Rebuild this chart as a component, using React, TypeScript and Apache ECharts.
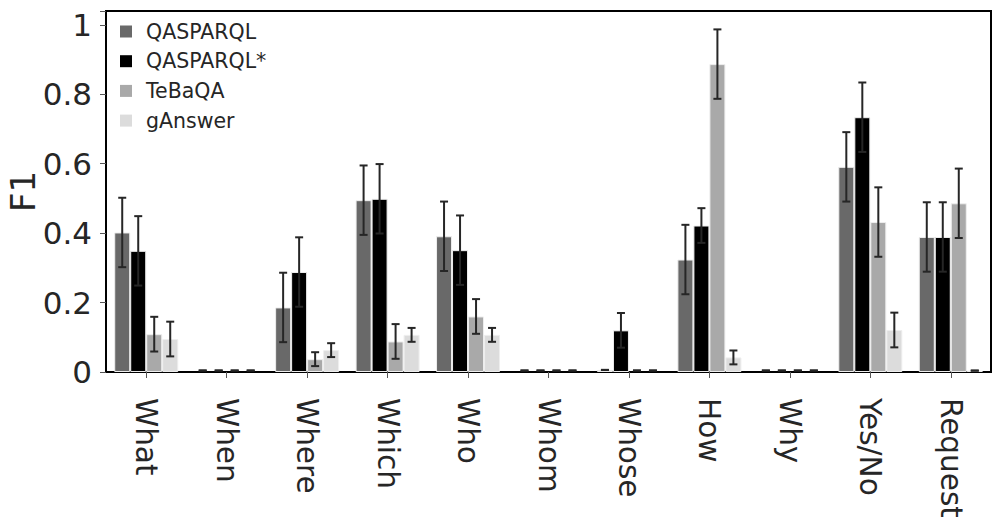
import React, { useEffect, useRef } from "react";
import * as echarts from "echarts";

const categories = ["What", "When", "Where", "Which", "Who", "Whom", "Whose", "How", "Why", "Yes/No", "Request"];
const seriesNames = ["QASPARQL", "QASPARQL*", "TeBaQA", "gAnswer"];
const qasparql = [0.402, 0, 0.186, 0.495, 0.391, 0, 0.006, 0.324, 0, 0.591, 0.389];
const qasparqlErr = [0.1, 0, 0.1, 0.1, 0.1, 0, 0, 0.1, 0, 0.1, 0.1];
const qasparqlStar = [0.349, 0, 0.288, 0.499, 0.351, 0, 0.12, 0.422, 0, 0.734, 0.389];
const qasparqlStarErr = [0.1, 0, 0.1, 0.1, 0.1, 0, 0.05, 0.05, 0, 0.1, 0.1];
const tebaqa = [0.109, 0, 0.037, 0.088, 0.16, 0, 0, 0.887, 0, 0.432, 0.486];
const tebaqaErr = [0.05, 0, 0.02, 0.05, 0.05, 0, 0, 0.1, 0, 0.1, 0.1];
const ganswer = [0.095, 0, 0.063, 0.107, 0.107, 0, 0, 0.042, 0, 0.121, 0.004];
const ganswerErr = [0.05, 0, 0.02, 0.02, 0.02, 0, 0, 0.02, 0, 0.05, 0];
const yTicks = [0, 0.2, 0.4, 0.6, 0.8, 1];

const colors = ["#696969", "#000000", "#a9a9a9", "#dcdcdc"];
const values = [qasparql, qasparqlStar, tebaqa, ganswer];
const errors = [qasparqlErr, qasparqlStarErr, tebaqaErr, ganswerErr];

const FONT = "DejaVu Sans";
const BAR_W = 16;

export default function App() {
  const ref = useRef<HTMLDivElement>(null);
  useEffect(() => {
    const chart = echarts.init(ref.current!, undefined, { renderer: "svg" });
    const barSeries = seriesNames.map((name, i) => ({
      name,
      type: "bar",
      barWidth: BAR_W,
      barGap: "0%",
      data: values[i].map((v) => (v === 0 ? { value: 0, itemStyle: { borderWidth: 0 } } : v)),
      itemStyle: { color: colors[i], borderColor: "#eeeeee", borderWidth: 1 },
      z: 2,
    }));
    const errSeries = seriesNames.map((name, i) => ({
      name: "err-" + name,
      type: "custom",
      z: 5,
      data: values[i].map((v, j) => [j, v, errors[i][j]]),
      renderItem: (params: any, api: any) => {
        const idx = api.value(0);
        const v = api.value(1);
        const e = api.value(2);
        const offset = (i - 1.5) * BAR_W;
        const c = api.coord([idx, v]);
        const x = c[0] + offset;
        const yt = api.coord([idx, v + e])[1];
        const yb = api.coord([idx, Math.max(v - e, 0)])[1];
        const style = { stroke: "#262626", lineWidth: 2 };
        const lift = e === 0 && v === 0 ? 1.5 : 0;
        return {
          type: "group",
          children: [
            { type: "line", shape: { x1: x, y1: yt - lift, x2: x, y2: yb - lift }, style },
            { type: "line", shape: { x1: x - 4, y1: yt - lift, x2: x + 4, y2: yt - lift }, style },
            { type: "line", shape: { x1: x - 4, y1: yb - lift, x2: x + 4, y2: yb - lift }, style },
          ],
        };
      },
    }));
    chart.setOption({
      animation: false,
      grid: {
        left: 106,
        right: 9,
        top: 11,
        bottom: 153,
        show: true,
        borderColor: "#000",
        borderWidth: 2,
        backgroundColor: "transparent",
        containLabel: false,
        outerBoundsMode: "none",
      },
      legend: {
        data: seriesNames,
        orient: "vertical",
        left: 115,
        top: 16,
        icon: "rect",
        itemWidth: 12,
        itemHeight: 12,
        itemGap: 8.7,
        itemStyle: { borderWidth: 0 },
        textStyle: { fontFamily: FONT, fontSize: 20.5, color: "#262626", lineHeight: 20, padding: [0, 0, 0, 9] },
      },
      xAxis: {
        type: "category",
        data: categories,
        axisLine: { show: true, lineStyle: { color: "#000", width: 2 } },
        axisTick: { show: true, alignWithLabel: true, length: 6, lineStyle: { color: "#555", width: 1 } },
        axisLabel: {
          rotate: -90,
          interval: 0,
          margin: 26,
          fontFamily: FONT,
          fontSize: 29.5,
          color: "#262626",
          padding: [0, 0, 8, 0],
        },
      },
      yAxis: {
        type: "value",
        min: 0,
        max: 1.04,
        interval: 0.2,
        name: "F1",
        nameLocation: "middle",
        nameGap: 66,
        nameMoveOverlap: false,
        nameTextStyle: { fontFamily: FONT, fontSize: 34, color: "#262626" },
        axisLine: { show: true, lineStyle: { color: "#000", width: 2 } },
        axisTick: { show: true, length: 6, lineStyle: { color: "#555", width: 1 } },
        splitLine: { show: false },
        axisLabel: {
          margin: 14,
          fontFamily: FONT,
          fontSize: 31,
          color: "#262626",
          formatter: (v: number) => {
            const t = yTicks.find((k) => Math.abs(k - v) < 1e-6);
            return t === undefined ? "" : String(t);
          },
        },
      },
      series: [...barSeries, ...errSeries],
    });
    return () => chart.dispose();
  }, []);
  return <div ref={ref} style={{ width: 1000, height: 525, margin: -8 }} />;
}
